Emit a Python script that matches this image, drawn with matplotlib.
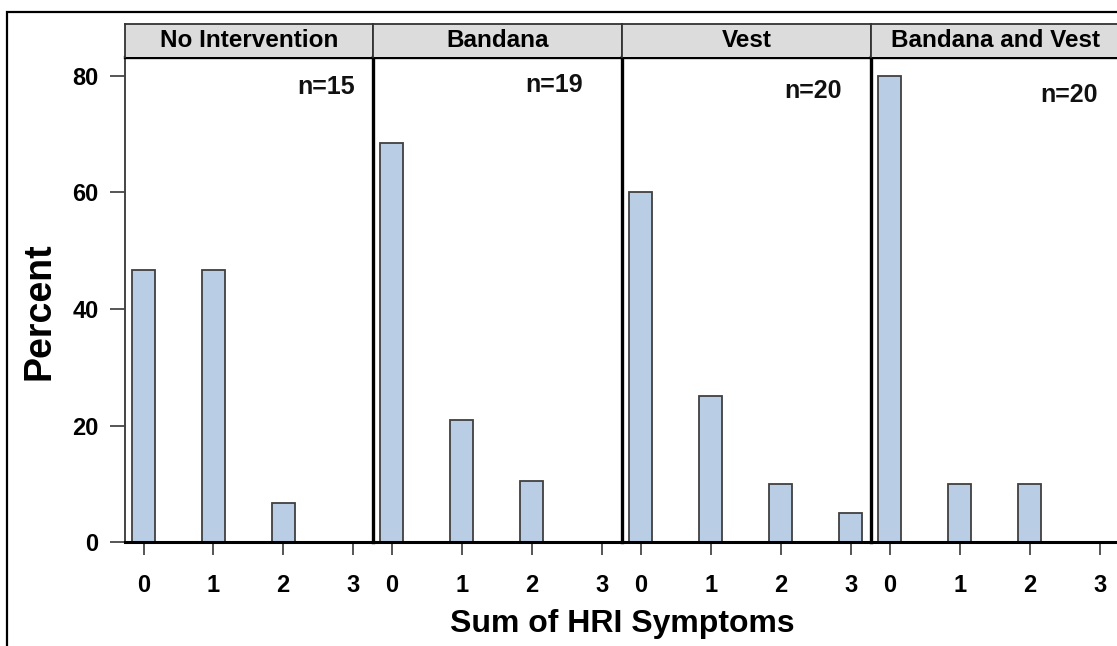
import matplotlib
matplotlib.use("Agg")
import matplotlib.pyplot as plt
from matplotlib.patches import Rectangle

plt.rcParams['font.family'] = ['Liberation Sans', 'DejaVu Sans']
plt.rcParams['font.weight'] = 'bold'

# data
groups = ['No Intervention', 'Bandana', 'Vest', 'Bandana and Vest']
group_n = [15, 19, 20, 20]
symptoms = [0, 1, 2, 3]
pct_none = [46.67, 46.67, 6.67, 0]
pct_bandana = [68.42, 21.05, 10.53, 0]
pct_vest = [60, 25, 10, 5]
pct_both = [80, 10, 10, 0]
y_ticks = [0, 20, 40, 60, 80]

percents = [pct_none, pct_bandana, pct_vest, pct_both]
# where the n= label sits in each panel (data coords, right aligned)
n_label_x = [3.03, 2.73, 2.87, 2.97]
n_label_y = [78.1, 78.4, 77.4, 76.7]

W, H = 1117, 646
fig = plt.figure(figsize=(W / 100, H / 100), dpi=100)

bar_color = '#B9CDE5'
edge_color = '#404040'
tick_color = '#555555'

edges_px = [125, 373, 622, 871, 1120]
ax_bottom = (H - 542.3) / H
ax_top = (H - 57) / H
hdr_top = (H - 24) / H

# outer frame (cropped on the right and bottom in the reference)
fig.patches.append(Rectangle((7 / W, -0.1), 1.2, (H - 12) / H + 0.1,
                             transform=fig.transFigure, fill=False,
                             edgecolor='black', linewidth=1.6))

for i, (name, n, vals) in enumerate(zip(groups, group_n, percents)):
    x0 = edges_px[i] / W
    w = (edges_px[i + 1] - edges_px[i]) / W
    ax = fig.add_axes([x0, ax_bottom, w, ax_top - ax_bottom])
    ax.bar(symptoms, vals, width=0.33, color=bar_color,
           edgecolor=edge_color, linewidth=1.3, zorder=2)
    ax.set_xlim(-0.27, 3.29)
    ax.set_ylim(0, 83.2)
    ax.set_xticks(symptoms)
    ax.set_xticklabels([str(s) for s in symptoms])
    ax.tick_params(axis='x', length=9, width=1.4, color=tick_color,
                   pad=14, labelsize=17)
    if i == 0:
        ax.set_yticks(y_ticks)
        ax.set_yticklabels([str(v) for v in y_ticks])
        ax.tick_params(axis='y', length=11, width=1.4, color=tick_color,
                       pad=8, labelsize=17)
        ax.spines['left'].set_linewidth(1.4)
        ax.spines['left'].set_color('#444444')
    else:
        ax.set_yticks([])
        ax.spines['left'].set_linewidth(2.4)
        ax.spines['left'].set_color('black')
    ax.spines['right'].set_visible(False)
    ax.spines['top'].set_linewidth(2.4)
    ax.spines['bottom'].set_linewidth(2.2)
    for t in ax.get_xticklabels() + ax.get_yticklabels():
        t.set_fontweight('bold')
    ax.text(n_label_x[i], n_label_y[i], f'n={n}', ha='right', va='center',
            fontsize=18, fontweight='bold', color='#111111')

    hax = fig.add_axes([x0, ax_top, w, hdr_top - ax_top])
    hax.set_facecolor('#DCDCDC')
    hax.set_xticks([])
    hax.set_yticks([])
    for s in hax.spines.values():
        s.set_linewidth(1.3)
        s.set_color('#333333')
    hax.spines['bottom'].set_visible(False)
    hax.text(0.5, 0.5, name, ha='center', va='center', fontsize=17.5,
             fontweight='bold', transform=hax.transAxes)

fig.text(40 / W, (H - 311) / H, 'Percent', rotation=90, ha='center',
         va='center', fontsize=27, fontweight='bold')
fig.text(622 / W, (H - 624) / H, 'Sum of HRI Symptoms', ha='center',
         va='center', fontsize=23, fontweight='bold')

fig.savefig('out.png', dpi=100)
